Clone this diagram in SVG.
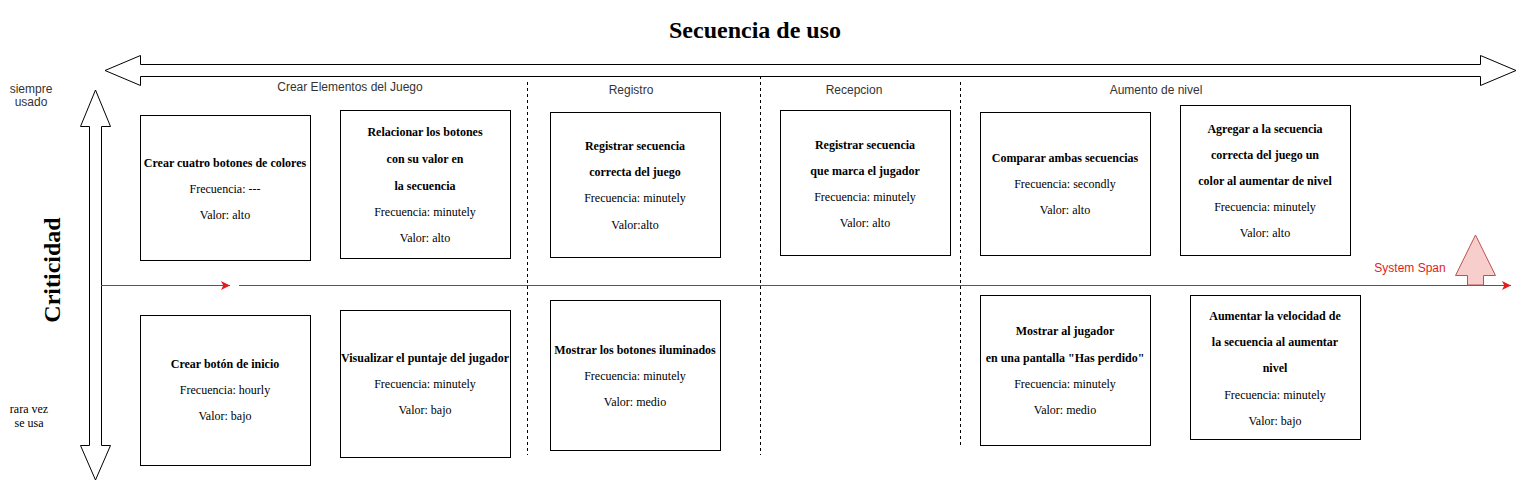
<svg xmlns="http://www.w3.org/2000/svg" width="1519" height="481" viewBox="0 0 1519 481">
<defs>
<style>
.bg{fill:#ffffff}
.box{fill:#ffffff;stroke:#000000;stroke-width:1}
.big{fill:#ffffff;stroke:#000000;stroke-width:1}
.dash{stroke:#000000;stroke-width:1;stroke-dasharray:3 3;fill:none}
.red{stroke:#e31b1b;stroke-width:1;fill:none}
.t{font-family:"Liberation Serif","Times New Roman",serif;font-size:12px;fill:#000000;text-anchor:middle}
.tb{font-family:"Liberation Serif","Times New Roman",serif;font-size:12px;font-weight:bold;fill:#000000;text-anchor:middle}
.s{font-family:"Liberation Sans",Arial,sans-serif;font-size:12px;fill:#333333;text-anchor:middle}
.h{font-family:"Liberation Serif","Times New Roman",serif;font-size:24px;font-weight:bold;fill:#000000;text-anchor:middle}
</style>
<marker id="ar" viewBox="0 0 10 10" refX="10" refY="5" markerWidth="9" markerHeight="9" markerUnits="userSpaceOnUse" orient="auto">
<path d="M0,0 L10,5 L0,10 L2.5,5 Z" fill="#e31b1b"/>
</marker>
</defs>
<rect class="bg" x="0" y="0" width="1519" height="481"/>

<g id="axes">
<polygon id="axis-x" class="big" points="105,70.5 140.5,55.5 140.5,64.5 1480.5,64.5 1480.5,55.5 1516,70.5 1480.5,85.5 1480.5,76.5 140.5,76.5 140.5,85.5"/>
<polygon id="axis-y" class="big" points="95.5,90 110.5,126.5 101.5,126.5 101.5,445.5 110.5,445.5 95.5,480 80.5,445.5 89.5,445.5 89.5,126.5 80.5,126.5"/>
<text class="h" x="755" y="38">Secuencia de uso</text>
<text class="h" transform="translate(60,270) rotate(-90)">Criticidad</text>
<text class="s" x="31" y="93">siempre</text>
<text class="s" x="31" y="106">usado</text>
<text class="t" x="29" y="413">rara vez</text>
<text class="t" x="29" y="427">se usa</text>
</g>

<g id="phases">
<text class="s" x="350" y="91">Crear Elementos del Juego</text>
<text class="s" x="631" y="94">Registro</text>
<text class="s" x="854" y="94">Recepcion</text>
<text class="s" x="1156" y="94">Aumento de nivel</text>
</g>

<g id="connectors">
<line class="dash" x1="527.5" y1="82" x2="527.5" y2="455"/>
<line class="dash" x1="760.5" y1="76" x2="760.5" y2="455"/>
<line class="dash" x1="960.5" y1="82" x2="960.5" y2="445"/>
<line class="red" x1="101" y1="285.5" x2="230" y2="285.5" marker-end="url(#ar)"/>
<line class="red" x1="239" y1="285.5" x2="1511" y2="285.5" marker-end="url(#ar)"/>
</g>

<g id="system-span">
<polygon points="1467.5,285 1467.5,275.5 1455.5,275.5 1475.5,235 1495.5,275.5 1483.5,275.5 1483.5,285" fill="#f8cecc" stroke="#b85450" stroke-width="1"/>
<text x="1410" y="272" font-family="Liberation Sans, Arial, sans-serif" font-size="12" fill="#e31b1b" text-anchor="middle">System Span</text>
</g>

<g id="n1">
<rect class="box" x="140.5" y="115.5" width="170" height="145"/>
<text class="tb" x="225" y="167">Crear cuatro botones de colores</text>
<text class="t" x="225" y="193">Frecuencia: ---</text>
<text class="t" x="225" y="219">Valor: alto</text>
</g>
<g id="n2">
<rect class="box" x="340.5" y="110.5" width="170" height="148"/>
<text class="tb" x="425" y="136">Relacionar los botones</text>
<text class="tb" x="425" y="163">con su valor en</text>
<text class="tb" x="425" y="190">la secuencia</text>
<text class="t" x="425" y="216">Frecuencia: minutely</text>
<text class="t" x="425" y="242">Valor: alto</text>
</g>
<g id="n3">
<rect class="box" x="550.5" y="112.5" width="170" height="145"/>
<text class="tb" x="635" y="150">Registrar secuencia</text>
<text class="tb" x="635" y="176">correcta del juego</text>
<text class="t" x="635" y="202">Frecuencia: minutely</text>
<text class="t" x="635" y="229">Valor:alto</text>
</g>
<g id="n4">
<rect class="box" x="780.5" y="110.5" width="170" height="145"/>
<text class="tb" x="865" y="149">Registrar secuencia</text>
<text class="tb" x="865" y="175">que marca el jugador</text>
<text class="t" x="865" y="201">Frecuencia: minutely</text>
<text class="t" x="865" y="227">Valor: alto</text>
</g>
<g id="n5">
<rect class="box" x="980.5" y="112.5" width="170" height="143"/>
<text class="tb" x="1065" y="162">Comparar ambas secuencias</text>
<text class="t" x="1065" y="188">Frecuencia: secondly</text>
<text class="t" x="1065" y="214">Valor: alto</text>
</g>
<g id="n6">
<rect class="box" x="1180.5" y="105.5" width="170" height="150"/>
<text class="tb" x="1265" y="133">Agregar a la secuencia</text>
<text class="tb" x="1265" y="159">correcta del juego un</text>
<text class="tb" x="1265" y="185">color al aumentar de nivel</text>
<text class="t" x="1265" y="211">Frecuencia: minutely</text>
<text class="t" x="1265" y="237">Valor: alto</text>
</g>
<g id="n7">
<rect class="box" x="140.5" y="315.5" width="170" height="150"/>
<text class="tb" x="225" y="368">Crear botón de inicio</text>
<text class="t" x="225" y="394">Frecuencia: hourly</text>
<text class="t" x="225" y="420">Valor: bajo</text>
</g>
<g id="n8">
<rect class="box" x="340.5" y="310.5" width="170" height="147"/>
<text class="tb" x="425" y="362">Visualizar el puntaje del jugador</text>
<text class="t" x="425" y="388">Frecuencia: minutely</text>
<text class="t" x="425" y="414">Valor: bajo</text>
</g>
<g id="n9">
<rect class="box" x="550.5" y="300.5" width="170" height="150"/>
<text class="tb" x="635" y="354">Mostrar los botones iluminados</text>
<text class="t" x="635" y="380">Frecuencia: minutely</text>
<text class="t" x="635" y="406">Valor: medio</text>
</g>
<g id="n10">
<rect class="box" x="980.5" y="295.5" width="170" height="150"/>
<text class="tb" x="1065" y="335">Mostrar al jugador</text>
<text class="tb" x="1065" y="362">en una pantalla "Has perdido"</text>
<text class="t" x="1065" y="388">Frecuencia: minutely</text>
<text class="t" x="1065" y="414">Valor: medio</text>
</g>
<g id="n11">
<rect class="box" x="1190.5" y="295.5" width="170" height="144"/>
<text class="tb" x="1275" y="320">Aumentar la velocidad de</text>
<text class="tb" x="1275" y="346">la secuencia al aumentar</text>
<text class="tb" x="1275" y="372">nivel</text>
<text class="t" x="1275" y="399">Frecuencia: minutely</text>
<text class="t" x="1275" y="425">Valor: bajo</text>
</g>
</svg>
